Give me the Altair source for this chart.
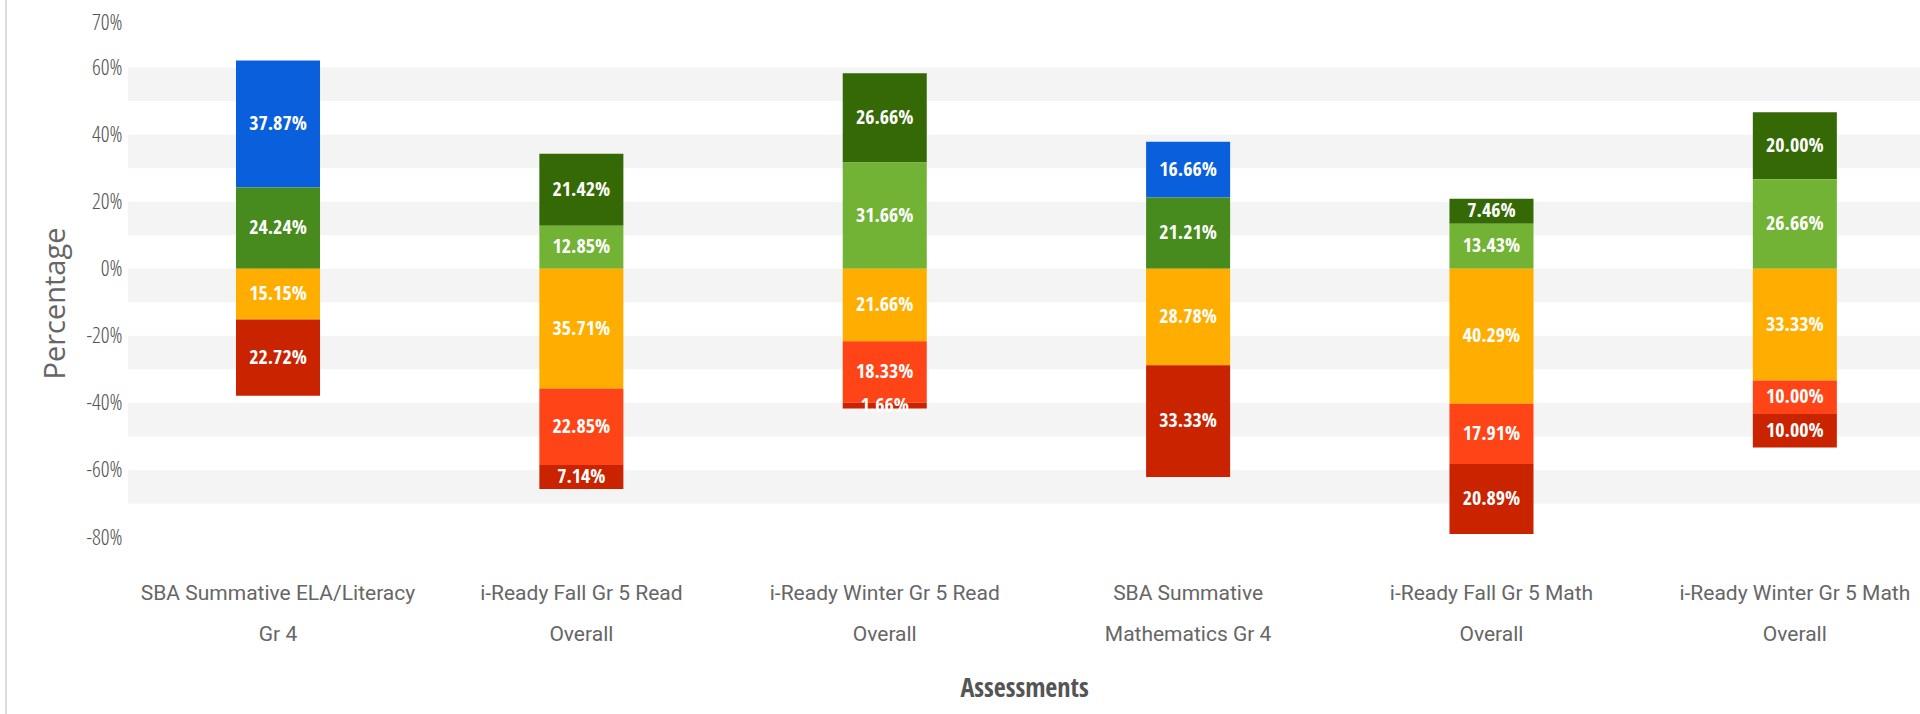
import altair as alt
import pandas as pd

categories = [
    "SBA Summative ELA/Literacy Gr 4",
    "i-Ready Fall Gr 5 Read Overall",
    "i-Ready Winter Gr 5 Read Overall",
    "SBA Summative Mathematics Gr 4",
    "i-Ready Fall Gr 5 Math Overall",
    "i-Ready Winter Gr 5 Math Overall",
]
label_lines = [
    ["SBA Summative ELA/Literacy", "Gr 4"],
    ["i-Ready Fall Gr 5 Read", "Overall"],
    ["i-Ready Winter Gr 5 Read", "Overall"],
    ["SBA Summative", "Mathematics Gr 4"],
    ["i-Ready Fall Gr 5 Math", "Overall"],
    ["i-Ready Winter Gr 5 Math", "Overall"],
]

# level name, colour, side (+1 above zero / -1 below), stacking order from zero
levels = ["Exceeded", "Met", "Above Grade", "On Grade", "Approaching", "Below", "Far Below"]
level_colors = ["#0a5fdc", "#478a1e", "#356905", "#72b335", "#ffae00", "#ff4517", "#c92300"]
level_side = [1, 1, 1, 1, -1, -1, -1]
level_order = [2, 1, 2, 1, 1, 2, 3]

exceeded = [37.87, None, None, 16.66, None, None]
met = [24.24, None, None, 21.21, None, None]
above_grade = [None, 21.42, 26.66, None, 7.46, 20.00]
on_grade = [None, 12.85, 31.66, None, 13.43, 26.66]
approaching = [15.15, 35.71, 21.66, 28.78, 40.29, 33.33]
below = [None, 22.85, 18.33, None, 17.91, 10.00]
far_below = [22.72, 7.14, 1.66, 33.33, 20.89, 10.00]
series = [exceeded, met, above_grade, on_grade, approaching, below, far_below]

y_ticks = [-80, -60, -40, -20, 0, 20, 40, 60, 70]
band_starts = [50, 30, 10, -10, -30, -50, -70]

rows = []
for li, vals in enumerate(series):
    for ci, v in enumerate(vals):
        if v is None:
            continue
        rows.append({
            "cat": categories[ci],
            "level": levels[li],
            "value": v * level_side[li],
            "abs": v,
            "order": level_order[li],
        })
df = pd.DataFrame(rows)
bands = pd.DataFrame({"lo": band_starts, "hi": [b + 10 for b in band_starts]})

W, H = 1792, 503
FONT_BOLD = "Open Sans Condensed, Roboto Condensed, Roboto"
FONT_LIGHT = "Open Sans Condensed Light, Roboto"
FONT_XLAB = "Roboto"

label_expr = ""
for c, ln in zip(categories, label_lines):
    label_expr += f"datum.label == '{c}' ? {ln!r} : "
label_expr += "datum.label"

yscale = alt.Scale(domain=[-80, 70], nice=False, zero=False)

band_layer = alt.Chart(bands).mark_rect(color="#f4f4f4").encode(
    y=alt.Y("lo:Q", scale=yscale),
    y2="hi:Q",
    x=alt.value(0),
    x2=alt.value(W),
)

base = alt.Chart(df).transform_stack(
    stack="value", groupby=["cat"], as_=["y0", "y1"],
    sort=[alt.SortField("order", order="ascending")], offset="zero",
).transform_calculate(
    mid="(datum.y0 + datum.y1) / 2",
    txt="format(datum.abs, '.2f') + '%'",
)

xenc = alt.X(
    "cat:N", sort=categories, title="Assessments",
    scale=alt.Scale(paddingInner=0.723, paddingOuter=0.315, align=0.565),
    axis=alt.Axis(
        labelAngle=0, domain=False, ticks=False, labelExpr=label_expr,
        labelFont=FONT_XLAB, labelFontSize=21, labelColor="#666666",
        labelLineHeight=41, labelPadding=45, labelLimit=400,
        titleFont=FONT_BOLD, titleFontSize=26, titleFontWeight="bold",
        titleColor="#555555", titlePadding=31,
    ),
)

bars = base.mark_bar().encode(
    x=xenc,
    y=alt.Y(
        "y0:Q", scale=yscale, title="Percentage",
        axis=alt.Axis(
            values=y_ticks, labelExpr="datum.value + '%'", grid=False,
            domain=False, ticks=False, labelFont=FONT_LIGHT, labelFontSize=22,
            labelColor="#555555", labelPadding=6,
            labelBaseline={"condition": {"test": "datum.value == 70", "value": "bottom"}, "value": "middle"},
            titleFont="Open Sans", titleFontSize=29, titleFontWeight="normal",
            titleColor="#666666", titleX=-73, titleY=269, titleBaseline="middle",
            titleAngle=270,
        ),
    ),
    y2="y1:Q",
    color=alt.Color("level:N", scale=alt.Scale(domain=levels, range=level_colors), legend=None),
)

texts = base.mark_text(
    color="white", font=FONT_BOLD, fontWeight="bold", fontSize=20, baseline="middle"
).encode(
    x=alt.X("cat:N", sort=categories),
    y=alt.Y("mid:Q", scale=yscale),
    text="txt:N",
)

border = alt.Chart(pd.DataFrame({"a": [0]})).mark_rule(color="#dddddd", strokeWidth=2).encode(
    x=alt.value(-122), y=alt.value(-34), y2=alt.value(680)
)

chart = alt.layer(band_layer, border, bars, texts).properties(
    width=W, height=H,
    autosize=alt.AutoSizeParams(type="none"),
    padding={"left": 128, "top": 34, "right": 0, "bottom": 177},
).configure_view(stroke=None)

chart.save("out.html", embed_options={"renderer": "svg", "actions": False})
